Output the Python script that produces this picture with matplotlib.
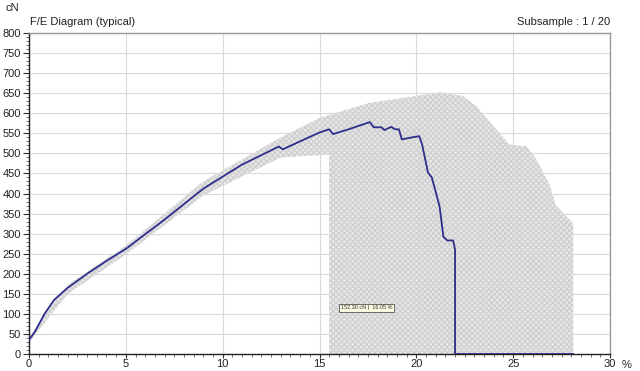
import numpy as np
import matplotlib.pyplot as plt
from matplotlib.ticker import MultipleLocator

plt.rcParams['font.family'] = ['Liberation Sans', 'DejaVu Sans']
plt.rcParams['hatch.color'] = '#d0d0d0'

# typical curve (elongation %, force cN)
elong = [0, 0.3, 0.8, 1.3, 2.0, 3.0, 4.0, 5.0, 7.0, 9.0, 11.0, 12.9, 13.1, 14.0, 15.0,
         15.5, 15.7, 16.5, 17.6, 17.8, 18.2, 18.35, 18.7, 18.9, 19.1, 19.25, 19.8, 20.15,
         20.3, 20.6, 20.8, 21.2, 21.4, 21.6, 21.9, 22.0, 22.0, 28.1]
force = [35, 55, 100, 135, 165, 200, 232, 262, 335, 412, 472, 517, 510, 530, 552,
         560, 548, 560, 578, 565, 565, 558, 566, 560, 560, 535, 540, 543,
         522, 452, 440, 368, 292, 283, 283, 260, 0, 0]

# envelope of all subsamples
up_x = [0, 1, 2, 5, 9, 13, 15, 17.5, 20, 21.2, 22.4, 23.1, 23.8, 24.8, 25.7, 26.2,
        26.9, 27.2, 27.9, 28.1, 28.1]
up_y = [40, 112, 172, 270, 430, 540, 588, 625, 643, 652, 643, 618, 578, 522, 517, 485,
        420, 370, 335, 325, 0]
lo_x = [0, 1, 2, 5, 9, 13, 15.5, 15.5, 28.1]
lo_y = [28, 90, 150, 248, 395, 490, 497, 0, 0]

marker_text = '152.30 cN |  16.05 %'

fig = plt.figure(figsize=(6.4, 3.71), dpi=100)
ax = fig.add_axes([29/640, 17/371, 581/640, 321/371])

env_x = up_x + lo_x[::-1]
env_y = up_y + lo_y[::-1]
ax.fill(env_x, env_y, facecolor='#e8e8e8', edgecolor='#d0d0d0', hatch='xxxxxx',
        linewidth=0, zorder=1)

ax.plot(elong, force, color='#2e2e8c', lw=1.3, zorder=3)

ax.set_xlim(0, 30)
ax.set_ylim(0, 800)
ax.xaxis.set_major_locator(MultipleLocator(5))
ax.xaxis.set_minor_locator(MultipleLocator(0.5))
ax.yaxis.set_major_locator(MultipleLocator(50))
ax.yaxis.set_minor_locator(MultipleLocator(10))
ax.grid(True, which='major', color='#d9d9d9', lw=0.8, zorder=0)
ax.set_axisbelow(True)

ax.tick_params(axis='both', which='major', labelsize=8, length=4, color='#333333',
               labelcolor='#222222', pad=2)
ax.tick_params(axis='both', which='minor', length=2.5, color='#555555')
ax.tick_params(axis='x', which='major', length=3, pad=0.5)

for s in ['left', 'bottom']:
    ax.spines[s].set_color('#222222')
    ax.spines[s].set_linewidth(1.0)
for s in ['top', 'right']:
    ax.spines[s].set_color('#999999')
    ax.spines[s].set_linewidth(1.0)

ax.text(16.1, 115, marker_text, fontsize=4, color='#333333', va='center', ha='left',
        bbox=dict(boxstyle='square,pad=0.25', fc='#fbfbe0', ec='#555555', lw=0.6), zorder=4)

fig.text(30/640, 1 - 22/371, 'F/E Diagram (typical)', fontsize=8, color='#222222', va='center')
fig.text(610/640, 1 - 22/371, 'Subsample : 1 / 20', fontsize=8, color='#222222',
         va='center', ha='right')
fig.text(12/640, 1 - 8/371, 'cN', fontsize=8, color='#222222', va='center', ha='center')
fig.text(627/640, 1 - 365/371, '%', fontsize=8, color='#222222', va='center', ha='center')

fig.savefig('out.png', dpi=100)
